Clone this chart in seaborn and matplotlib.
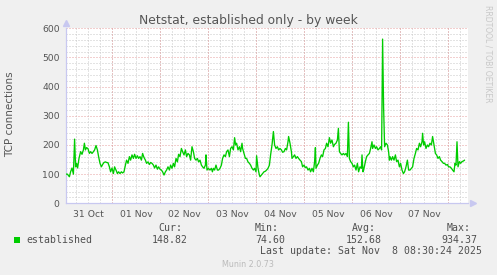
import numpy as np
import pandas as pd
import matplotlib
matplotlib.use("Agg")
import matplotlib.pyplot as plt
from matplotlib.patches import Rectangle
import seaborn as sns

# ---- data (hours since 31 Oct 00:00, TCP connections) ----
hours = [
    1.0, 1.7, 2.7, 3.3, 4.0, 4.7, 5.3, 5.8, 6.3, 6.8, 7.5, 8.3, 9.0, 9.7, 10.2, 10.7,
    11.3, 12.0, 12.7, 13.3, 14.0, 14.7, 15.3, 16.0, 16.7, 17.3, 18.0, 18.7, 19.3, 20.0,
    20.7, 21.3, 22.0, 22.7, 23.3, 24.0, 24.7, 25.3, 26.0, 26.7, 27.3, 28.0, 28.7, 29.3,
    30.0, 30.7, 31.3, 32.0, 32.7, 33.3, 34.0, 34.7, 35.3, 36.0, 36.7, 37.3, 38.0, 38.7,
    39.3, 40.0, 40.7, 41.3, 42.0, 42.7, 43.3, 44.0, 44.7, 45.3, 46.0, 46.7, 47.3,
    48.0, 48.7, 49.3, 50.0, 50.7, 51.3, 52.0, 52.7, 53.3, 54.0, 54.7, 55.3, 56.0, 56.7,
    57.3, 58.0, 58.7, 59.3, 60.0, 60.7, 61.3, 62.0, 62.7, 63.3, 64.0, 64.7, 65.3, 66.0,
    66.7, 67.3, 68.0, 68.7, 69.3, 70.0, 70.7, 71.0, 71.5, 72.2, 73.0, 73.7, 74.2, 74.7,
    75.3, 76.0, 76.7, 77.3, 78.0, 78.7, 79.3, 80.0, 80.7, 81.3, 82.0, 82.7, 83.3, 84.0,
    84.7, 85.3, 85.8, 86.3, 87.0, 87.7, 88.3, 89.0, 89.3, 90.0, 90.7, 91.3, 92.0, 92.7,
    93.3, 94.0, 94.7, 95.3, 96.0, 96.3, 97.0, 97.7,
    98.0, 98.7, 99.3, 100.0, 100.7, 101.3, 102.0, 102.7, 103.3, 104.0, 104.7, 105.3,
    106.0, 106.7, 107.3, 108.0, 108.7, 109.3, 110.0, 110.7, 111.3, 112.0, 112.3, 113.0,
    113.7, 114.0, 114.7, 115.3, 116.0, 116.7, 117.3, 118.0, 118.7, 119.3, 120.0, 120.7,
    121.3, 122.0, 122.7, 123.3, 124.0, 124.7, 125.3, 125.7, 126.0, 126.7, 127.3, 128.0,
    128.7, 129.3, 130.0, 130.7, 131.3, 132.0, 132.7, 133.3, 134.0, 134.7, 135.3, 136.0,
    136.7, 137.2, 137.7, 138.3, 139.0, 139.7, 140.3, 141.0, 141.7, 142.2, 142.7, 143.3,
    144.0, 144.7, 145.3, 146.0, 146.7, 147.3,
    148.0, 148.7, 149.0, 149.5, 150.0, 150.7, 151.3, 152.0, 152.7, 153.3, 154.0, 154.3,
    155.0, 155.7, 156.3, 157.0, 157.7, 158.3, 158.8, 159.3, 159.8, 160.3, 161.0, 161.7,
    162.3, 162.7, 163.0, 163.7, 164.3, 165.0, 165.7, 166.3, 167.0, 167.7, 168.3, 169.0,
    169.7, 170.3, 171.0, 171.7, 172.3, 173.0, 173.7, 174.3, 175.0, 175.7, 176.3, 177.0,
    177.7, 178.3, 179.0, 179.3, 179.8, 180.3, 181.0, 181.7, 182.3, 183.0, 183.7, 184.3,
    185.0, 185.7, 186.3, 187.0, 187.7, 188.3, 189.0, 189.7, 190.3, 191.0, 191.7, 192.3,
    193.0, 193.7, 194.3, 195.0, 195.5, 196.0, 196.5, 197.0, 197.7, 198.3, 199.0, 199.7,
    200.3,
]
established = [
    100, 100, 91, 108, 121, 100, 220, 125, 137, 121, 154, 177, 168, 183, 206, 183,
    191, 187, 171, 177, 171, 177, 183, 198, 183, 160, 137, 125, 133, 140,
    142, 140, 139, 125, 108, 121, 102, 125, 114, 102, 108, 102, 108, 104,
    108, 131, 148, 137, 160, 148, 166, 154, 168, 154, 163, 154, 160, 148,
    171, 157, 148, 137, 142, 133, 140, 137, 131, 121, 131, 117, 125,
    117, 114, 108, 97, 108, 114, 125, 114, 131, 120, 137, 125, 154, 142,
    168, 160, 188, 177, 166, 183, 160, 171, 166, 148, 194, 177, 154, 148,
    154, 142, 148, 131, 125, 120, 131, 166, 114, 120, 114, 120, 108, 120,
    114, 131, 114, 114, 120, 131, 154, 166, 160, 177, 183, 160, 188, 194,
    183, 225, 200, 206, 183, 194, 177, 206, 188, 171, 154, 154, 142, 137,
    131, 120, 114, 120, 108, 163, 120, 97,
    91, 97, 102, 108, 110, 114, 120, 131, 166, 200, 246, 200,
    188, 194, 183, 188, 183, 175, 177, 188, 183, 211, 229, 206,
    177, 154, 160, 166, 154, 160, 154, 148, 143, 125, 131, 122,
    125, 114, 120, 108, 120, 108, 143, 191, 120, 131, 137, 154,
    166, 160, 183, 188, 206, 194, 225, 206, 217, 194, 202, 206,
    217, 257, 177, 171, 166, 171, 166, 171, 160, 278, 154, 143,
    137, 125, 131, 114, 137, 108,
    125, 120, 166, 108, 120, 143, 160, 166, 171, 188, 211, 188,
    200, 188, 194, 183, 188, 194, 183, 563, 330, 194, 206, 200,
    177, 148, 160, 148, 160, 148, 166, 143, 148, 125, 137, 114,
    102, 108, 125, 148, 114, 114, 120, 125, 154, 171, 188, 183,
    206, 194, 211, 240, 200, 211, 188, 200, 194, 206, 200, 229,
    200, 171, 166, 154, 160, 148, 143, 137, 137, 131, 133, 125,
    125, 120, 114, 108, 137, 131, 211, 125, 143, 137, 143, 145,
    148,
]
day_labels = ["31 Oct", "01 Nov", "02 Nov", "03 Nov", "04 Nov", "05 Nov", "06 Nov", "07 Nov"]
label_hours = [12, 36, 60, 84, 108, 132, 156, 180]
midnight_hours = [24, 48, 72, 96, 120, 144, 168, 192]
y_ticks = [0, 100, 200, 300, 400, 500, 600]
series_name = "established"
stat_names = ["Cur:", "Min:", "Avg:", "Max:"]
stat_values = ["148.82", "74.60", "152.68", "934.37"]
last_update = "Last update: Sat Nov  8 08:30:24 2025"

df = pd.DataFrame({"hours": hours, "established": established})

sns.set_style("white")
plt.rcParams["font.family"] = ["DejaVu Sans"]

W, H = 497, 275
fig = plt.figure(figsize=(W / 100, H / 100), dpi=100, facecolor="#f0f0f0")
ax = fig.add_axes([66 / W, 1 - 203.3 / H, 402 / W, 175 / H])
ax.set_facecolor("white")

GREEN = "#00cc00"
RED = "#e6a0a0"
GREY = "#c8c8c8"
AXC = "#c8c8f0"
TXT = "#555555"
dot = (0, (1, 2))

sns.lineplot(data=df, x="hours", y="established", color=GREEN, linewidth=0.95,
             ax=ax, legend=False, sort=False, zorder=3)

ax.set_xlim(1, 202)
ax.set_ylim(0, 600)
ax.set_xlabel("")
ax.set_ylabel("")

# x grid / ticks
ax.set_xticks(label_hours)
ax.set_xticklabels(day_labels)
ax.set_xticks(np.arange(6, 202, 6), minor=True)
ax.xaxis.grid(True, which="both", color=GREY, linestyle=dot, linewidth=0.72)
ax.vlines(midnight_hours, 0, 600, colors=RED, linestyles=dot, linewidth=0.72, zorder=1)

# y grid / ticks
ax.set_yticks(y_ticks)
ax.set_yticks(np.arange(0, 601, 20), minor=True)
ax.yaxis.grid(True, which="major", color=RED, linestyle=dot, linewidth=0.72)
ax.yaxis.grid(True, which="minor", color=GREY, linestyle=dot, linewidth=0.72)
ax.set_axisbelow(True)

ax.tick_params(axis="x", which="both", length=0, pad=4.5, labelsize=6.7, labelcolor=TXT)
ax.tick_params(axis="y", which="major", length=1.5, width=0.72, color=RED, pad=3,
               labelsize=6.7, labelcolor=TXT)
ax.tick_params(axis="y", which="minor", length=1.5, width=0.72, color=GREY)

for s in ["top", "right"]:
    ax.spines[s].set_visible(False)
for s in ["left", "bottom"]:
    ax.spines[s].set_color(AXC)
    ax.spines[s].set_linewidth(0.9)

# axis arrows
ax.plot(0, 1.03, marker="^", ms=4.5, color=AXC, transform=ax.transAxes, clip_on=False)
ax.plot(1.012, 0, marker=">", ms=4.5, color=AXC, transform=ax.transAxes, clip_on=False)

def fx(x):
    return x / W

def fy(y):
    return 1 - y / H

fig.text(fx(248.5), fy(24), "Netstat, established only - by week", ha="center",
         va="baseline", fontsize=8.9, color=TXT)
fig.text(fx(10), fy(114), "TCP connections", rotation=90, ha="center", va="center",
         fontsize=7.5, color=TXT)
fig.text(fx(488), fy(53.5), "RRDTOOL / TOBI OETIKER", rotation=270, ha="center",
         va="center", fontsize=5.5, color="#c8c8c8")

mono = dict(family="DejaVu Sans Mono", fontsize=7.1, color="#505050")
fig.add_artist(Rectangle((fx(14), fy(242.5)), 5.5 / W, 5.5 / H, transform=fig.transFigure,
                         color=GREEN, linewidth=0))
fig.text(fx(26.7), fy(243), series_name, ha="left", va="baseline", **mono)
head_x = [158, 255, 352, 447]
val_x = [152, 255, 346, 441]
for name, hx in zip(stat_names, head_x):
    fig.text(fx(hx), fy(231), name, ha="left", va="baseline", **mono)
for val, vx in zip(stat_values, val_x):
    fig.text(fx(vx), fy(243), val, ha="left", va="baseline", **mono)
fig.text(fx(482), fy(254), last_update, ha="right", va="baseline", **mono)
fig.text(fx(248), fy(267), "Munin 2.0.73", ha="center", va="baseline", fontsize=5.8,
         color="#bbbbbb")

fig.savefig("out.png", dpi=100, facecolor=fig.get_facecolor())
